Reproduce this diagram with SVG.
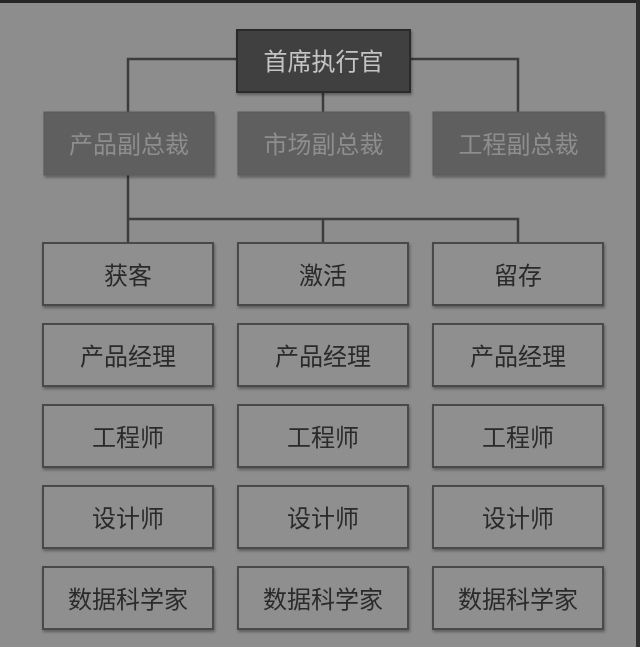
<svg xmlns="http://www.w3.org/2000/svg" width="640" height="647" viewBox="0 0 640 647">
<defs>
<filter id="sh" x="-10%" y="-10%" width="125%" height="130%">
<feDropShadow dx="1" dy="2" stdDeviation="1.5" flood-color="#000" flood-opacity="0.35"/>
</filter>
</defs>
<style>
text{font-family:"Noto Sans CJK SC","Noto Sans CJK JP",sans-serif;font-size:24px;text-anchor:middle;dominant-baseline:central}
.ceo rect{fill:#404040;stroke:#2a2a2a;stroke-width:2}
.ceo text{fill:#c4c4c4}
.vp rect{fill:#5f5f5f;stroke:#5a5a5a;stroke-width:1}
.vp text{fill:#8e8e8e}
.box rect{fill:#8f8f8f;stroke:#4a4a4a;stroke-width:2}
.box text{fill:#2b2b2b}
.conn{fill:none;stroke:#3c3c3c;stroke-width:2.5}
</style>
<rect x="0" y="0" width="640" height="647" fill="#8d8d8d"/>
<rect x="0" y="0" width="640" height="3" fill="#262626"/>
<rect x="636" y="0" width="4" height="647" fill="#2e2e2e"/>
<g id="connectors" class="conn">
<path d="M237 59H128V112"/>
<path d="M410 59H518V112"/>
<path d="M323 92V112"/>
<path d="M128 175V243"/>
<path d="M128 219H518V243"/>
<path d="M323 219V243"/>
</g>
<g id="ceo" class="ceo" filter="url(#sh)"><rect x="237" y="30" width="173" height="62"/><text x="323.5" y="59">首席执行官</text></g>
<g id="vp-product" class="vp" filter="url(#sh)"><rect x="44" y="112" width="170" height="63"/><text x="129" y="142">产品副总裁</text></g>
<g id="vp-market" class="vp" filter="url(#sh)"><rect x="238" y="112" width="171" height="63"/><text x="323.5" y="142">市场副总裁</text></g>
<g id="vp-eng" class="vp" filter="url(#sh)"><rect x="433" y="112" width="171" height="63"/><text x="518.5" y="142">工程副总裁</text></g>
<g filter="url(#sh)">
<g id="acq" class="box"><rect x="43" y="243" width="170" height="62"/><text x="128" y="273">获客</text></g>
<g id="act" class="box"><rect x="238" y="243" width="170" height="62"/><text x="323" y="273">激活</text></g>
<g id="ret" class="box"><rect x="433" y="243" width="170" height="62"/><text x="518" y="273">留存</text></g>
<g id="pm1" class="box"><rect x="43" y="324" width="170" height="62"/><text x="128" y="354">产品经理</text></g>
<g id="pm2" class="box"><rect x="238" y="324" width="170" height="62"/><text x="323" y="354">产品经理</text></g>
<g id="pm3" class="box"><rect x="433" y="324" width="170" height="62"/><text x="518" y="354">产品经理</text></g>
<g id="eng1" class="box"><rect x="43" y="405" width="170" height="62"/><text x="128" y="435">工程师</text></g>
<g id="eng2" class="box"><rect x="238" y="405" width="170" height="62"/><text x="323" y="435">工程师</text></g>
<g id="eng3" class="box"><rect x="433" y="405" width="170" height="62"/><text x="518" y="435">工程师</text></g>
<g id="des1" class="box"><rect x="43" y="486" width="170" height="62"/><text x="128" y="516">设计师</text></g>
<g id="des2" class="box"><rect x="238" y="486" width="170" height="62"/><text x="323" y="516">设计师</text></g>
<g id="des3" class="box"><rect x="433" y="486" width="170" height="62"/><text x="518" y="516">设计师</text></g>
<g id="ds1" class="box"><rect x="43" y="567" width="170" height="62"/><text x="128" y="597">数据科学家</text></g>
<g id="ds2" class="box"><rect x="238" y="567" width="170" height="62"/><text x="323" y="597">数据科学家</text></g>
<g id="ds3" class="box"><rect x="433" y="567" width="170" height="62"/><text x="518" y="597">数据科学家</text></g>
</g>
</svg>
